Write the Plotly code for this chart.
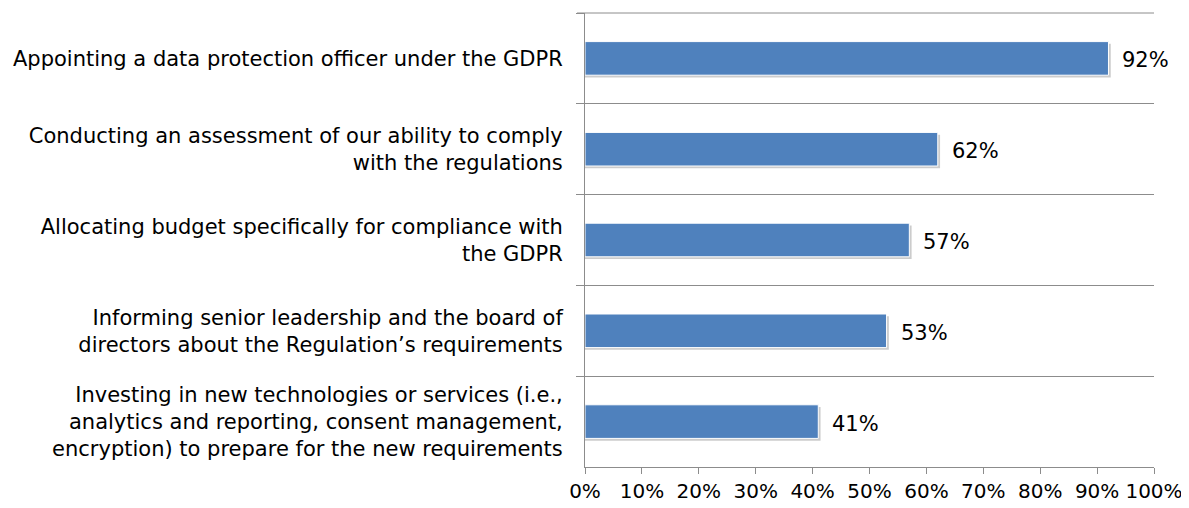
import plotly.graph_objects as go

categories = [
    "Appointing a data protection officer under the GDPR",
    "Conducting an assessment of our ability to comply<br>with the regulations",
    "Allocating budget specifically for compliance with<br>the GDPR",
    "Informing senior leadership and the board of<br>directors about the Regulation\u2019s requirements",
    "Investing in new technologies or services (i.e.,<br>analytics and reporting, consent management,<br>encryption) to prepare for the new requirements",
]
values = [92, 62, 57, 53, 41]
x_ticks = [0, 10, 20, 30, 40, 50, 60, 70, 80, 90, 100]
x_tick_labels = [f"{v}%" for v in x_ticks]

FONT = "DejaVu Sans"
BAR = "#4F81BD"
GRID = "#8C8C8C"

fig = go.Figure()

# soft shadow
fig.add_trace(go.Bar(
    y=categories, x=[v + 0.4 for v in values], orientation="h",
    marker=dict(color="rgba(0,0,0,0.2)", line=dict(width=0)),
    width=0.37, offset=-0.16, hoverinfo="skip", showlegend=False,
))
fig.add_trace(go.Bar(
    y=categories, x=values, orientation="h",
    marker=dict(color=BAR, line=dict(color="white", width=1)),
    width=0.37, offset=-0.185, showlegend=False,
))

for c, v in zip(categories, values):
    fig.add_annotation(
        x=v, y=c, text=f"{v}%", showarrow=False, xanchor="left",
        xshift=12, yshift=-2, font=dict(family=FONT, size=21, color="#000000"),
    )

# top boundary line (first category separator)
fig.add_shape(type="line", xref="paper", yref="paper", x0=-8 / 571, x1=1, y0=1, y1=1,
              line=dict(color=GRID, width=1))

fig.update_layout(
    width=1181, height=500,
    margin=dict(l=575, r=35, t=5, b=39),
    paper_bgcolor="white", plot_bgcolor="white",
    barmode="overlay",
    font=dict(family=FONT, size=20, color="#000000"),
)

fig.update_xaxes(
    range=[0, 100], tickvals=x_ticks, ticktext=x_tick_labels,
    showgrid=False, zeroline=False,
    showline=True, linecolor=GRID, linewidth=1,
    ticks="outside", ticklen=6, tickcolor=GRID, tickwidth=1,
    tickfont=dict(family=FONT, size=20, color="#000000"),
)
fig.update_yaxes(
    type="category", categoryorder="array", categoryarray=categories,
    range=[4.5, -0.5],
    tickson="boundaries",
    showgrid=True, gridcolor=GRID, gridwidth=1,
    showline=True, linecolor=GRID, linewidth=1,
    ticks="outside", ticklen=8, tickcolor=GRID, tickwidth=1,
    ticklabelstandoff=17,
    tickfont=dict(family=FONT, size=21, color="#000000"),
)

fig.write_html("out.html")
